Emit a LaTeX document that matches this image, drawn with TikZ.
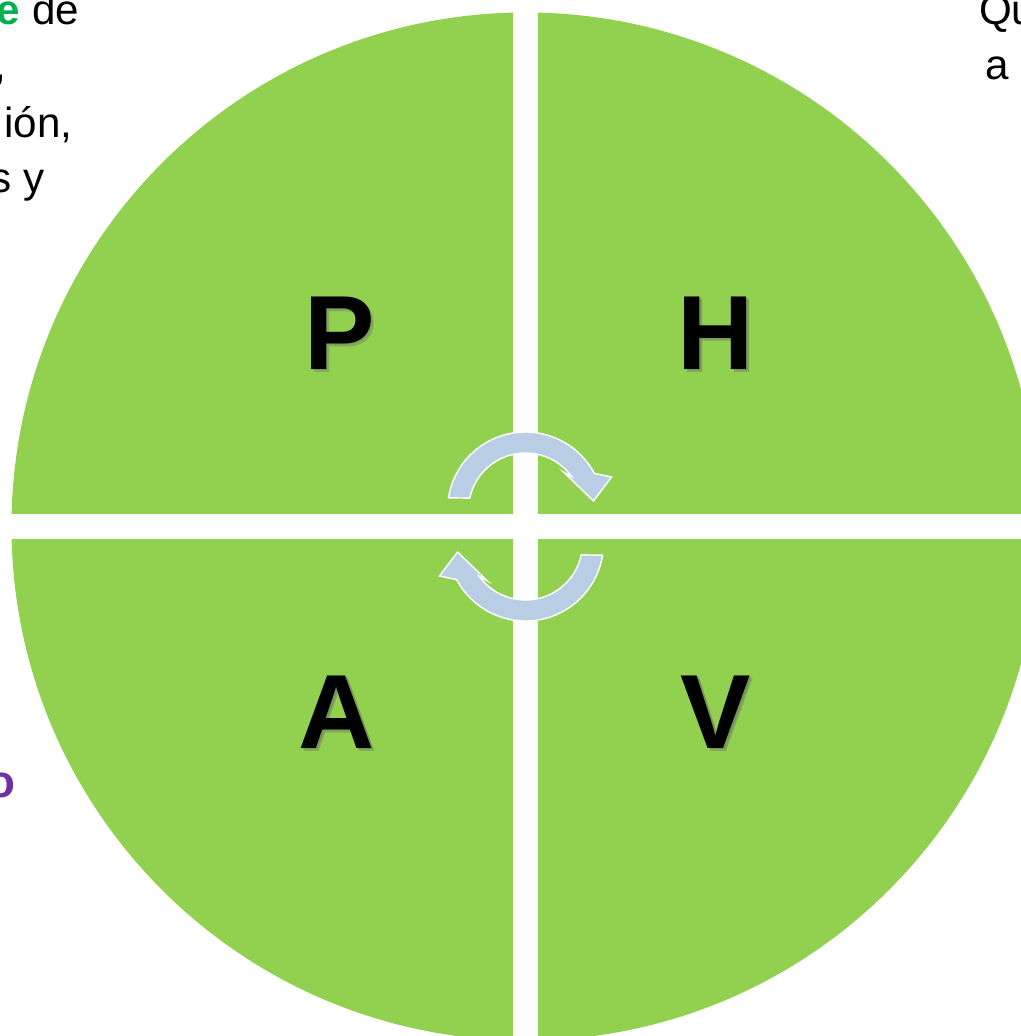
\documentclass[tikz,border=0pt]{standalone}
\usepackage{fontspec}
\setmainfont{Liberation Sans}
\usepackage{xcolor}
\usepackage{tikz}
\usetikzlibrary{arrows.meta, positioning}

\definecolor{quadgreen}{RGB}{146,208,80}
\definecolor{cycleblue}{RGB}{185,205,229}
\definecolor{wordgreen}{RGB}{0,176,80}
\definecolor{wordpurple}{RGB}{112,48,160}

\begin{document}
\begin{tikzpicture}[
  every node/.style={inner sep=0pt, outer sep=0pt},
  phvaletter/.style={font=\fontsize{60}{60}\selectfont\bfseries, text=black},
  phvashadow/.style={font=\fontsize{60}{60}\selectfont\bfseries, text=black!60, opacity=0.35},
  sidetext/.style={font=\fontsize{24}{24}\selectfont, text=black},
  cyclearrow/.style={fill=cycleblue, draw=white, line width=0.8pt, line join=miter},
]

%% ── Frame ───────────────────────────────────────────────────────────────────
\useasboundingbox (-10.51, -10.19) rectangle (9.91, 10.53);

%% ── Circle and the white cross ──────────────────────────────────────────────
\fill[quadgreen] (0, 0) circle (10.28);
\fill[white] (-0.25, -11) rectangle (0.25, 11);
\fill[white] (-11, -0.25) rectangle (11, 0.25);

%% ── Quadrant letters (soft shadow first) ────────────────────────────────────
\node[phvashadow] (Ps) at (-3.66, 3.81) {P};
\node[phvashadow] (Hs) at (3.87, 3.81) {H};
\node[phvashadow] (As) at (-3.71, -3.77) {A};
\node[phvashadow] (Vs) at (3.87, -3.77) {V};
\node[phvashadow] (Pt) at (-3.69, 3.84) {P};
\node[phvashadow] (Ht) at (3.84, 3.84) {H};
\node[phvashadow] (At) at (-3.74, -3.74) {A};
\node[phvashadow] (Vt) at (3.84, -3.74) {V};

\node[phvaletter] (P) at (-3.72, 3.87) {P};
\node[phvaletter] (H) at (3.81, 3.87) {H};
\node[phvaletter] (A) at (-3.77, -3.71) {A};
\node[phvaletter] (V) at (3.81, -3.71) {V};

%% ── Cycle arrows ────────────────────────────────────────────────────────────
\begin{scope}[shift={(0, 0.33)}]
  \draw[cyclearrow] (171:1.56) arc[start angle=171, end angle=28, radius=1.56]
    -- (1.72, 0.66) -- (1.36, 0.18) -- (0.76, 0.76) -- (36:1.14)
    arc[start angle=36, end angle=168, radius=1.14] -- cycle;
\end{scope}
\begin{scope}[rotate=180, shift={(0, 0.33)}]
  \draw[cyclearrow] (171:1.56) arc[start angle=171, end angle=28, radius=1.56]
    -- (1.72, 0.66) -- (1.36, 0.18) -- (0.76, 0.76) -- (36:1.14)
    arc[start angle=36, end angle=168, radius=1.14] -- cycle;
\end{scope}

%% ── Cut-off slide text ──────────────────────────────────────────────────────
\node[sidetext, anchor=base east] (lineone) at (-8.93, 10.03)
  {{\color{wordgreen}\bfseries e} de};
\node[sidetext, anchor=base east] (linetwo) at (-10.38, 8.93) {,};
\node[sidetext, anchor=base east] (linethree) at (-9.06, 7.77) {ión,};
\node[sidetext, anchor=base east] (linefour) at (-9.62, 6.67) {s y};

\node[sidetext, anchor=base west] (rightone) at (9.07, 10.03) {Qu};
\node[sidetext, anchor=base west] (righttwo) at (9.19, 8.93) {a};

\node[sidetext, anchor=base east, font=\fontsize{26}{26}\selectfont\bfseries,
      text=wordpurple] (purpleword) at (-10.20, -5.41) {o};

\end{tikzpicture}
\end{document}
